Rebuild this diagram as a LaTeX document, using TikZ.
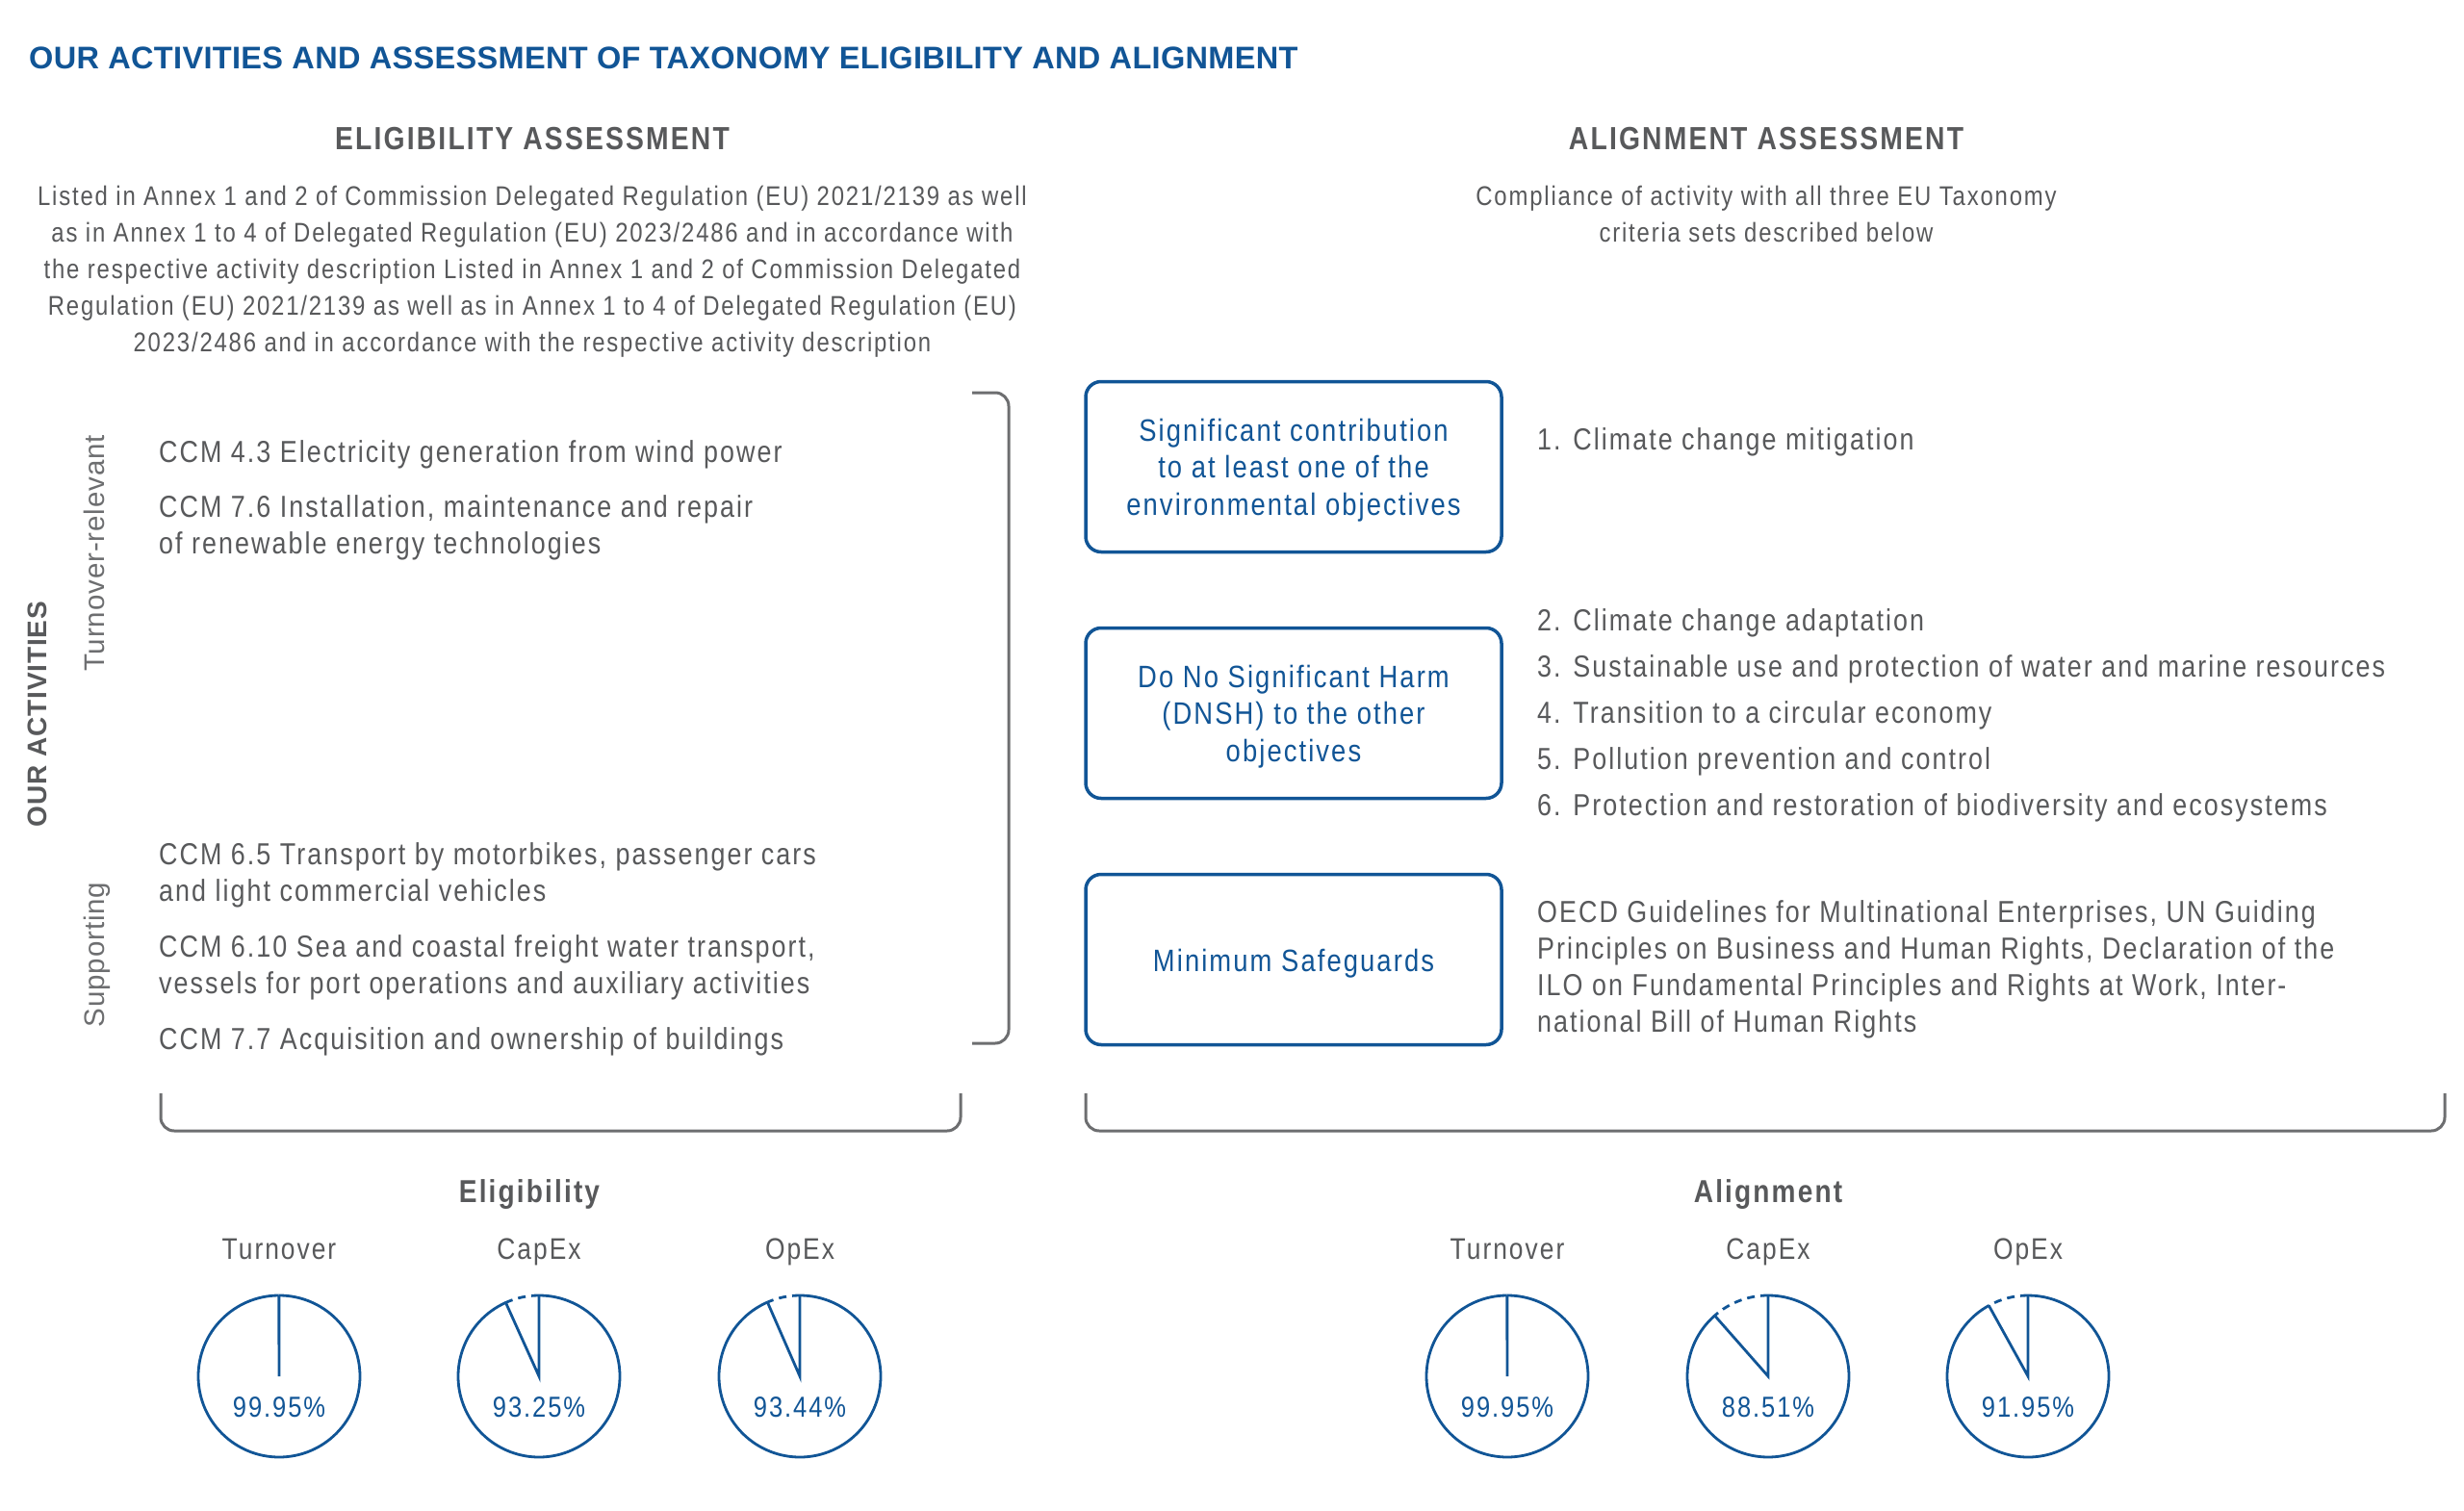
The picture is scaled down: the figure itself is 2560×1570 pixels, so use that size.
\documentclass[tikz,border=0pt]{standalone}
\usepackage{fontspec}
\setmainfont{Liberation Sans}
\newfontfamily\cond{Liberation Sans}[FakeStretch=0.85,LetterSpace=6.5]
\newfontfamily\titlef{Liberation Sans}[LetterSpace=1]
\newfontfamily\widef{Liberation Sans}[LetterSpace=3]
\definecolor{eublue}{HTML}{115596}
\definecolor{txtgray}{HTML}{58595B}
\definecolor{lgray}{HTML}{6D6E70}
\tikzset{
  body/.style={font=\cond\fontsize{31.6}{38}\selectfont, text=txtgray, inner sep=0pt, anchor=base west},
  para/.style={font=\cond\fontsize{28.1}{38}\selectfont, text=txtgray, inner sep=0pt, anchor=base},
  head/.style={font=\cond\bfseries\fontsize{33.3}{40}\selectfont, text=txtgray, inner sep=0pt, anchor=base},
  sidelabel/.style={font=\widef\fontsize{29.5}{34}\selectfont, text=lgray, inner sep=0pt, anchor=base, rotate=90},
  critbox/.style={draw=eublue, line width=3.5pt, rounded corners=16pt, minimum width=432pt, minimum height=177pt, inner sep=0pt,
     font=\cond\fontsize{32.2}{38.5}\selectfont, text=eublue, align=center},
  bracket/.style={draw=lgray, line width=3pt, rounded corners=14pt},
  pie/.style={draw=eublue, line width=2.8pt},
  pielabel/.style={font=\cond\fontsize{31}{36}\selectfont, text=txtgray, inner sep=0pt, anchor=base},
  pct/.style={font=\cond\fontsize{30}{36}\selectfont, text=eublue, inner sep=0pt, anchor=base},
}
\newcommand{\piechart}[3]{% #1 x, #2 y, #3 gap angle
  \begin{scope}[shift={(#1,#2)}, y=1pt]
    \draw[pie] (90+#3:84) arc[start angle=90+#3, end angle=450, radius=84];
    \draw[pie, dash pattern=on 8pt off 6pt] (90:84) arc[start angle=90, end angle=90+#3, radius=84];
    \draw[pie, line join=miter] (90+#3:84) -- (0,0) -- (90:84);
  \end{scope}}
\begin{document}
\begin{tikzpicture}[x=1pt, y=-1pt]
\useasboundingbox (0,0) rectangle (2560,1570);
\fill[white] (0,0) rectangle (2560,1570);

% title
\node[font=\titlef\bfseries\fontsize{32.5}{38}\selectfont, text=eublue, inner sep=0pt, anchor=base west] (title) at (30,72)
  {OUR ACTIVITIES AND ASSESSMENT OF TAXONOMY ELIGIBILITY AND ALIGNMENT};

% headings
\node[head] (elighead) at (553,156) {ELIGIBILITY ASSESSMENT};
\node[head] (alighead) at (1835,156) {ALIGNMENT ASSESSMENT};

% eligibility paragraph
\node[para] (ep1) at (553,214) {Listed in Annex 1 and 2 of Commission Delegated Regulation (EU) 2021/2139 as well};
\node[para] (ep2) at (553,252) {as in Annex 1 to 4 of Delegated Regulation (EU) 2023/2486 and in accordance with};
\node[para] (ep3) at (553,290) {the respective activity description Listed in Annex 1 and 2 of Commission Delegated};
\node[para] (ep4) at (553,328) {Regulation (EU) 2021/2139 as well as in Annex 1 to 4 of Delegated Regulation (EU)};
\node[para] (ep5) at (553,366) {2023/2486 and in accordance with the respective activity description};

% alignment paragraph
\node[para] (ap1) at (1835,214) {Compliance of activity with all three EU Taxonomy};
\node[para] (ap2) at (1835,252) {criteria sets described below};

% side labels
\node[font=\widef\bfseries\fontsize{28}{34}\selectfont, text=txtgray, inner sep=0pt, anchor=base, rotate=90] (ouract) at (48,742) {OUR ACTIVITIES};
\node[sidelabel] (turnrel) at (108,575) {Turnover-relevant};
\node[sidelabel] (supp) at (108,992) {Supporting};

% activities
\node[body] (a1) at (165,480) {CCM 4.3 Electricity generation from wind power};
\node[body] (a2) at (165,537) {CCM 7.6 Installation, maintenance and repair};
\node[body] (a2b) at (165,575) {of renewable energy technologies};
\node[body] (a3) at (165,898) {CCM 6.5 Transport by motorbikes, passenger cars};
\node[body] (a3b) at (165,936) {and light commercial vehicles};
\node[body] (a4) at (165,994) {CCM 6.10 Sea and coastal freight water transport,};
\node[body] (a4b) at (165,1032) {vessels for port operations and auxiliary activities};
\node[body] (a5) at (165,1090) {CCM 7.7 Acquisition and ownership of buildings};

% brackets
\draw[bracket] (1010,408) -- (1048,408) -- (1048,1084) -- (1010,1084);
\draw[bracket] (167,1136) -- (167,1175) -- (998,1175) -- (998,1136);
\draw[bracket] (1128,1136) -- (1128,1175) -- (2540,1175) -- (2540,1136);

% criteria boxes
\node[critbox] (sc) at (1344,485) {\rule{0pt}{30pt}Significant contribution\\to at least one of the\\environmental objectives};
\node[critbox] (dnsh) at (1344,741) {\rule{0pt}{30pt}Do No Significant Harm\\(DNSH) to the other\\objectives};
\node[critbox] (ms) at (1344,997) {\rule{0pt}{31pt}Minimum Safeguards};

% objectives
\node[body] (o1) at (1597,467) {1. Climate change mitigation};
\node[body] (o2) at (1597,655) {2. Climate change adaptation};
\node[body] (o3) at (1597,703) {3. Sustainable use and protection of water and marine resources};
\node[body] (o4) at (1597,751) {4. Transition to a circular economy};
\node[body] (o5) at (1597,799) {5. Pollution prevention and control};
\node[body] (o6) at (1597,847) {6. Protection and restoration of biodiversity and ecosystems};
\node[body] (g1) at (1597,958) {OECD Guidelines for Multinational Enterprises, UN Guiding};
\node[body] (g2) at (1597,996) {Principles on Business and Human Rights, Declaration of the};
\node[body] (g3) at (1597,1034) {ILO on Fundamental Principles and Rights at Work, Inter-};
\node[body] (g4) at (1597,1072) {national Bill of Human Rights};

% charts
\node[head, font=\cond\bfseries\fontsize{33}{40}\selectfont] (eligt) at (550,1249) {Eligibility};
\node[head, font=\cond\bfseries\fontsize{33}{40}\selectfont] (aligt) at (1837,1249) {Alignment};

\node[pielabel] (el1) at (290,1308) {Turnover};
\node[pielabel] (el2) at (560,1308) {CapEx};
\node[pielabel] (el3) at (831,1308) {OpEx};
\node[pielabel] (al1) at (1566,1308) {Turnover};
\node[pielabel] (al2) at (1837,1308) {CapEx};
\node[pielabel] (al3) at (2107,1308) {OpEx};

\piechart{290}{1430}{0.18}
\piechart{560}{1430}{24.3}
\piechart{831}{1430}{23.6}
\piechart{1566}{1430}{0.18}
\piechart{1837}{1430}{41.36}
\piechart{2107}{1430}{28.98}

\node[pct] (ep) at (290,1472) {99.95\%};
\node[pct] (ec) at (560,1472) {93.25\%};
\node[pct] (eo) at (831,1472) {93.44\%};
\node[pct] (ap) at (1566,1472) {99.95\%};
\node[pct] (ac) at (1837,1472) {88.51\%};
\node[pct] (ao) at (2107,1472) {91.95\%};
\end{tikzpicture}
\end{document}
